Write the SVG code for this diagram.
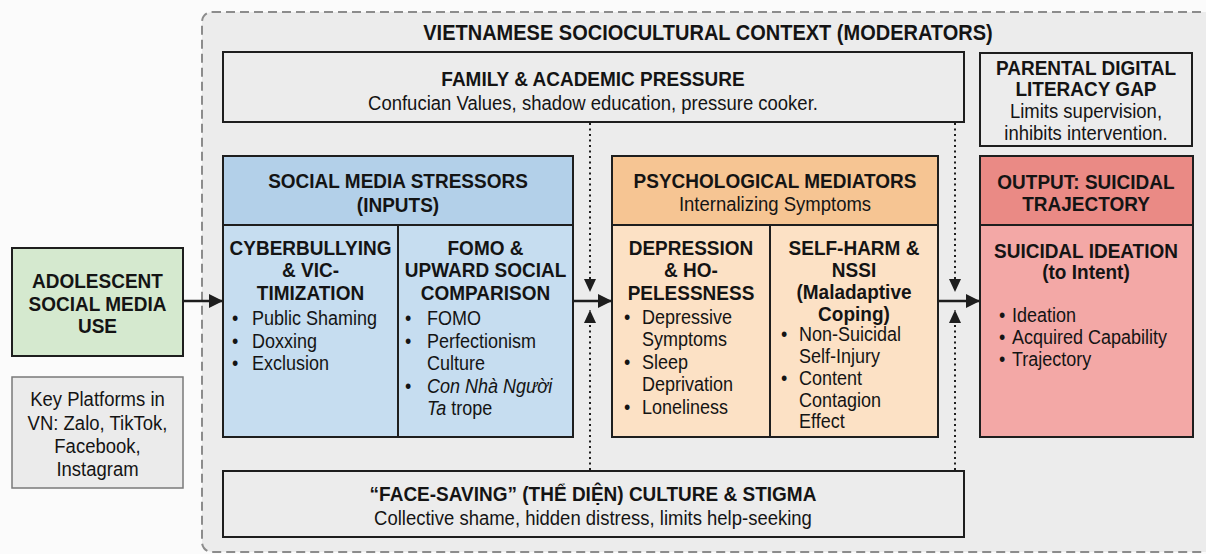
<svg xmlns="http://www.w3.org/2000/svg" width="1206" height="554" viewBox="0 0 1206 554">
  <style>
    text { font-family: "Liberation Sans", Arial, sans-serif; fill: #141414; transform-box: fill-box; transform-origin: center; transform: scaleY(1.1); }
    .t { font-size: 20px; font-weight: bold; text-anchor: middle; }
    .h { font-size: 19px; font-weight: bold; text-anchor: middle; }
    .s { font-size: 18.5px; text-anchor: middle; }
    .b { font-size: 18px; }
    .i { font-style: italic; }
    .box { stroke: #1e1e1e; stroke-width: 2; }
    .conn { stroke: #1e1e1e; stroke-width: 2.5; fill: none; }
    .dot { stroke: #1e1e1e; stroke-width: 2; stroke-dasharray: 2 3.5; fill: none; }
  </style>
  <defs>
    <marker id="arrow" markerUnits="userSpaceOnUse" markerWidth="14" markerHeight="14" viewBox="0 0 14 14" refX="13" refY="7" orient="auto">
      <path d="M0,0 L14,7 L0,14 z" fill="#1e1e1e"/>
    </marker>
    <marker id="arrowSmall" markerUnits="userSpaceOnUse" markerWidth="13" markerHeight="12" viewBox="0 0 13 12" refX="13" refY="6" orient="auto">
      <path d="M0,0 L13,6 L0,12 z" fill="#1e1e1e"/>
    </marker>
  </defs>

  <rect x="0" y="0" width="1206" height="554" fill="#fbfbfb"/>

  <!-- Sociocultural context frame -->
  <g id="context">
    <rect x="202" y="12" width="1030" height="540" rx="10" fill="#ececec" stroke="#8c8c8c" stroke-width="2" stroke-dasharray="9 5"/>
    <text class="t" x="708" y="39">VIETNAMESE SOCIOCULTURAL CONTEXT (MODERATORS)</text>
  </g>

  <g id="family-pressure">
    <rect class="box" x="223" y="52" width="741" height="70" fill="#ececec"/>
    <text class="h" x="593" y="85">FAMILY &amp; ACADEMIC PRESSURE</text>
    <text class="s" x="593" y="109">Confucian Values, shadow education, pressure cooker.</text>
  </g>

  <g id="parental-gap">
    <rect class="box" x="980" y="53" width="212" height="93" fill="#ececec"/>
    <text class="h" x="1086" y="74">PARENTAL DIGITAL</text>
    <text class="h" x="1086" y="95">LITERACY GAP</text>
    <text class="s" x="1086" y="117">Limits supervision,</text>
    <text class="s" x="1086" y="139">inhibits intervention.</text>
  </g>

  <g id="face-saving">
    <rect class="box" x="223" y="471" width="741" height="66" fill="#ececec"/>
    <text class="h" x="593" y="500">“FACE-SAVING” (THỂ DIỆN) CULTURE &amp; STIGMA</text>
    <text class="s" x="593" y="524">Collective shame, hidden distress, limits help-seeking</text>
  </g>

  <!-- Input node -->
  <g id="social-media-use">
    <rect class="box" x="12" y="248" width="171" height="108" fill="#d5e9cf"/>
    <text class="h" x="97.5" y="287">ADOLESCENT</text>
    <text class="h" x="97.5" y="310">SOCIAL MEDIA</text>
    <text class="h" x="97.5" y="332">USE</text>
  </g>

  <g id="platforms">
    <rect x="12" y="377" width="171" height="111" fill="#ebebeb" stroke="#7a7a7a" stroke-width="1.5"/>
    <text class="s" x="97.5" y="405">Key Platforms in</text>
    <text class="s" x="97.5" y="429">VN: Zalo, TikTok,</text>
    <text class="s" x="97.5" y="452">Facebook,</text>
    <text class="s" x="97.5" y="475">Instagram</text>
  </g>

  <!-- Stressors -->
  <g id="stressors">
    <rect x="223" y="156" width="350" height="281" fill="#c6ddf0"/>
    <rect x="223" y="156" width="350" height="69" fill="#b3d0e9"/>
    <rect class="box" x="223" y="156" width="350" height="281" fill="none"/>
    <line class="box" x1="223" y1="225" x2="573" y2="225"/>
    <line class="box" x1="398" y1="225" x2="398" y2="437"/>
    <text class="h" x="398" y="187">SOCIAL MEDIA STRESSORS</text>
    <text class="h" x="398" y="211">(INPUTS)</text>

    <text class="h" x="310.5" y="254">CYBERBULLYING</text>
    <text class="h" x="310.5" y="276">&amp; VIC-</text>
    <text class="h" x="310.5" y="299">TIMIZATION</text>
    <text class="b" x="232" y="324">•</text><text class="b" x="252" y="324">Public Shaming</text>
    <text class="b" x="232" y="347">•</text><text class="b" x="252" y="347">Doxxing</text>
    <text class="b" x="232" y="369">•</text><text class="b" x="252" y="369">Exclusion</text>

    <text class="h" x="485.5" y="254">FOMO &amp;</text>
    <text class="h" x="485.5" y="276">UPWARD SOCIAL</text>
    <text class="h" x="485.5" y="299">COMPARISON</text>
    <text class="b" x="405" y="324">•</text><text class="b" x="427" y="324">FOMO</text>
    <text class="b" x="405" y="347">•</text><text class="b" x="427" y="347">Perfectionism</text>
    <text class="b" x="427" y="369">Culture</text>
    <text class="b" x="405" y="392">•</text><text class="b i" x="427" y="392">Con Nhà Người</text>
    <text class="b" x="427" y="414"><tspan class="i">Ta</tspan> trope</text>
  </g>

  <!-- Mediators -->
  <g id="mediators">
    <rect x="612" y="156" width="326" height="281" fill="#fce1c5"/>
    <rect x="612" y="156" width="326" height="69" fill="#f6c593"/>
    <rect class="box" x="612" y="156" width="326" height="281" fill="none"/>
    <line class="box" x1="612" y1="225" x2="938" y2="225"/>
    <line class="box" x1="770" y1="225" x2="770" y2="437"/>
    <text class="h" x="775" y="187">PSYCHOLOGICAL MEDIATORS</text>
    <text class="s" x="775" y="210">Internalizing Symptoms</text>

    <text class="h" x="691" y="254">DEPRESSION</text>
    <text class="h" x="691" y="276">&amp; HO-</text>
    <text class="h" x="691" y="299">PELESSNESS</text>
    <text class="b" x="624" y="323">•</text><text class="b" x="642" y="323">Depressive</text>
    <text class="b" x="642" y="345">Symptoms</text>
    <text class="b" x="624" y="368">•</text><text class="b" x="642" y="368">Sleep</text>
    <text class="b" x="642" y="390">Deprivation</text>
    <text class="b" x="624" y="413">•</text><text class="b" x="642" y="413">Loneliness</text>

    <text class="h" x="854" y="254">SELF-HARM &amp;</text>
    <text class="h" x="854" y="276">NSSI</text>
    <text class="h" x="854" y="298">(Maladaptive</text>
    <text class="h" x="854" y="320">Coping)</text>
    <text class="b" x="781" y="340">•</text><text class="b" x="799" y="340">Non-Suicidal</text>
    <text class="b" x="799" y="362">Self-Injury</text>
    <text class="b" x="781" y="384">•</text><text class="b" x="799" y="384">Content</text>
    <text class="b" x="799" y="406">Contagion</text>
    <text class="b" x="799" y="427">Effect</text>
  </g>

  <!-- Outcome -->
  <g id="outcome">
    <rect x="980" y="156" width="213" height="281" fill="#f3a8a6"/>
    <rect x="980" y="156" width="213" height="69" fill="#ea8a85"/>
    <rect class="box" x="980" y="156" width="213" height="281" fill="none"/>
    <line class="box" x1="980" y1="225" x2="1193" y2="225"/>
    <text class="h" x="1086" y="188">OUTPUT: SUICIDAL</text>
    <text class="h" x="1086" y="210">TRAJECTORY</text>
    <text class="h" x="1086" y="257">SUICIDAL IDEATION</text>
    <text class="h" x="1086" y="278">(to Intent)</text>
    <text class="b" x="999" y="321">•</text><text class="b" x="1012" y="321">Ideation</text>
    <text class="b" x="999" y="343">•</text><text class="b" x="1012" y="343">Acquired Capability</text>
    <text class="b" x="999" y="365">•</text><text class="b" x="1012" y="365">Trajectory</text>
  </g>

  <!-- Connectors -->
  <g id="connectors">
    <line class="conn" x1="183" y1="301" x2="222" y2="301" marker-end="url(#arrow)"/>
    <line class="conn" x1="573" y1="301" x2="611" y2="301" marker-end="url(#arrow)"/>
    <line class="conn" x1="938" y1="301" x2="979" y2="301" marker-end="url(#arrow)"/>

    <line class="dot" x1="590" y1="123" x2="590" y2="292" marker-end="url(#arrowSmall)"/>
    <line class="dot" x1="590" y1="470" x2="590" y2="310" marker-end="url(#arrowSmall)"/>
    <line class="dot" x1="955" y1="123" x2="955" y2="292" marker-end="url(#arrowSmall)"/>
    <line class="dot" x1="955" y1="470" x2="955" y2="310" marker-end="url(#arrowSmall)"/>
  </g>
</svg>
